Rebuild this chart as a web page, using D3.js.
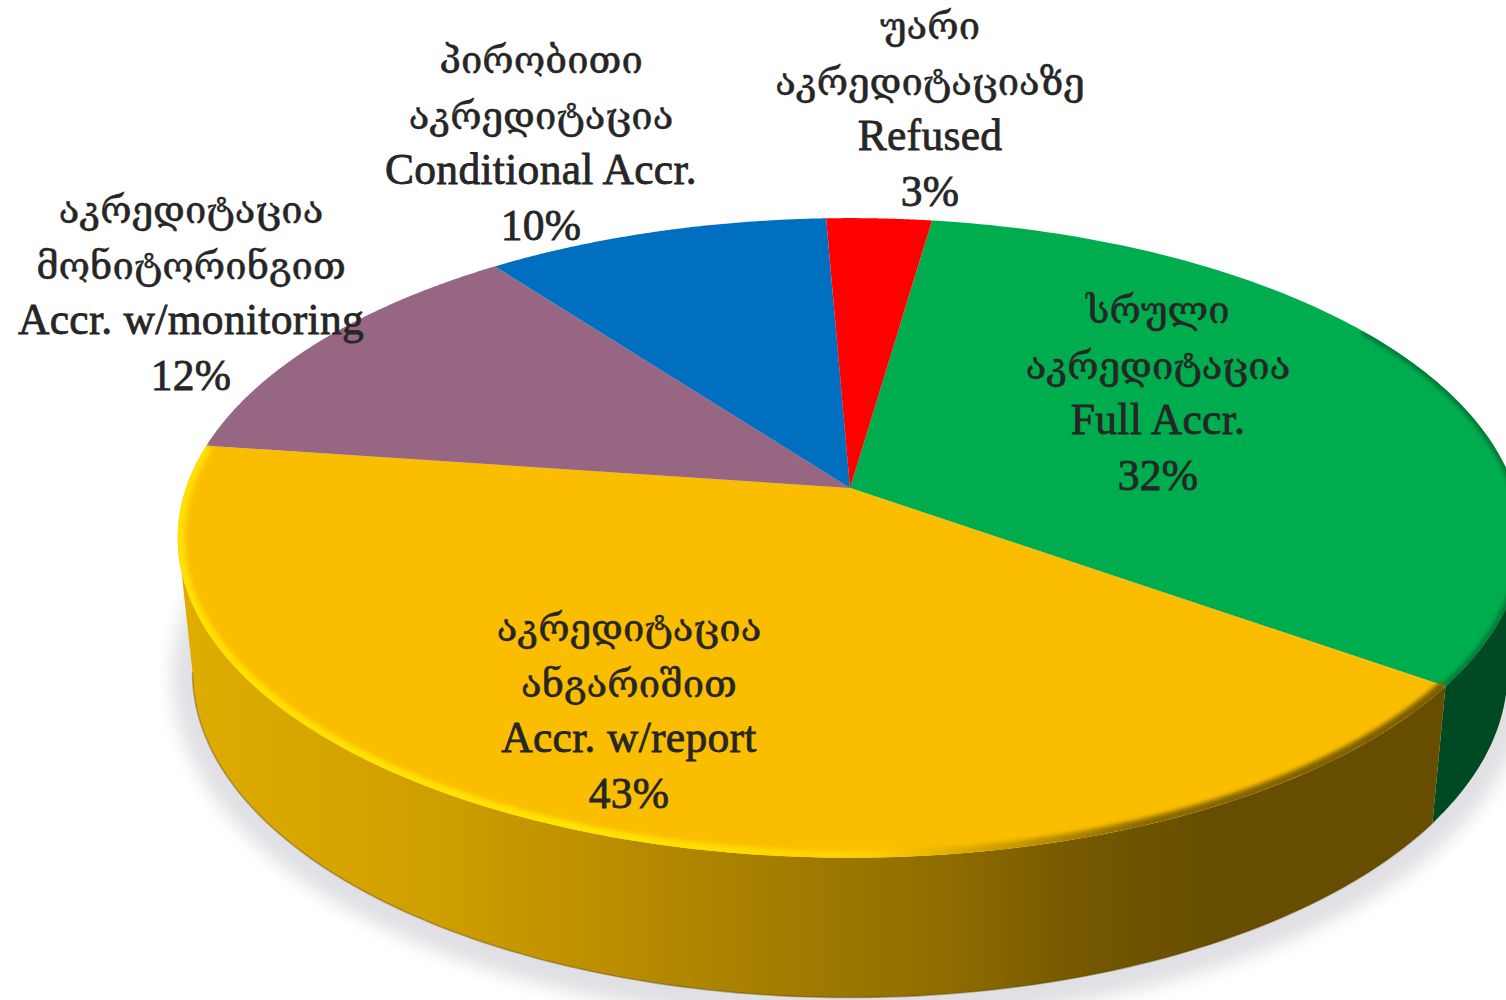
<!DOCTYPE html>
<html><head><meta charset="utf-8">
<script src="https://cdnjs.cloudflare.com/ajax/libs/d3/7.8.5/d3.min.js"></script>
<style>html,body{margin:0;padding:0;background:#fff;overflow:hidden}svg{display:block}</style>
</head><body><svg id="c" width="1506" height="1000"></svg>
<script>
const categoriesKa = [["სრული","აკრედიტაცია"],["აკრედიტაცია","ანგარიშით"],["აკრედიტაცია","მონიტორინგით"],["პირობითი","აკრედიტაცია"],["უარი","აკრედიტაციაზე"]];
const categoriesEn = ["Full Accr.","Accr. w/report","Accr. w/monitoring","Conditional Accr.","Refused"];
const percentLabels = ["32%","43%","12%","10%","3%"];
const values = [32.53,42.4,12.51,9.61,2.94];
const colors = ["#00ad4e","#fbbd00","#976683","#006fc0","#ff0000"];
const sideColors = ["#004a23","url(#sideGold)","#5f4050","#004a80","#a00000"];
const labelAnchors = [[1158,323],[629,641],[191,223],[541,73],[930,39]];
const W=1506,H=1000, startDeg=8.2;
const CX=850, CY=488, A=664, B=312, K=0.156;          // perspective of the top disc
const BY=621.6, SX=0.978, SY=1.017;                    // perspective of the bottom disc
const rad=Math.PI/180;
const topPt=t=>{const x=Math.sin(t),y=-Math.cos(t),d=1-K*y;return [CX+A*x/d,CY+B*y/d];};
const botPt=t=>{const x=Math.sin(t),y=-Math.cos(t),d=1-K*y;return [CX+SX*A*x/d,BY+SY*B*y/d];};
const arcPts=(f,a,b,n=120)=>d3.range(n+1).map(i=>f(a+(b-a)*i/n));
const line=d3.line();
const pie=d3.pie().sort(null).value(d=>d).startAngle(startDeg*rad).endAngle(startDeg*rad+2*Math.PI);
const arcs=pie(values);
const color=d3.scaleOrdinal(d3.range(values.length),colors);
const side=d3.scaleOrdinal(d3.range(values.length),sideColors);
const svg=d3.select("#c");
const defs=svg.append("defs");
const f=(id,s)=>defs.append("filter").attr("id",id).attr("x","-20%").attr("y","-20%").attr("width","140%").attr("height","140%").append("feGaussianBlur").attr("stdDeviation",s);
f("shadow",9);f("bevel",2.2);
const lg=(id,stops)=>{const g=defs.append("linearGradient").attr("id",id).attr("gradientUnits","userSpaceOnUse").attr("x1",170).attr("x2",1450).attr("y1",0).attr("y2",0);
 stops.forEach(([o,c])=>g.append("stop").attr("offset",o).attr("stop-color",c));};
lg("sideGold",[[0,"#e0ad00"],[.2,"#d09f00"],[.36,"#b88c00"],[.5,"#a07a00"],[.62,"#8c6a00"],[.72,"#735700"],[.82,"#664d00"],[1,"#664d00"]]);
lg("rimGold",[[0,"#ffe000"],[.3,"#ffe400"],[.45,"#ffdc00"],[.55,"#ffcc00"],[.66,"#c89800"],[.76,"#8a6900"],[1,"#7a5c00"]]);
defs.append("clipPath").attr("id","disc").append("path").attr("d",line(arcPts(topPt,0,2*Math.PI,360))+"Z");

const lo=261*rad, hi=99*rad;   // silhouette tangent angles on the left and right
// ground shadow
svg.append("path").attr("d",line(arcPts(botPt,0,2*Math.PI,360))+"Z")
 .attr("fill","#e0e0e4").attr("stroke","#e0e0e4").attr("stroke-width",40).attr("filter","url(#shadow)").attr("transform","translate(0,4)");
// side walls
svg.append("g").selectAll("path").data(arcs.map((d,i)=>({a:Math.max(d.startAngle,hi),b:Math.min(d.endAngle,lo),i})).filter(d=>d.b>d.a))
 .join("path")
 .attr("d",d=>line(arcPts(topPt,d.a,d.b).concat(arcPts(botPt,d.b,d.a)))+"Z")
 .attr("fill",d=>side(d.i));
// bottom edge darkening
svg.append("path").attr("d",line(arcPts(botPt,hi+0.45,lo))).attr("fill","none").attr("stroke","#5a4300").attr("stroke-opacity",.4).attr("stroke-width",1.6);
// top slices
svg.append("g").selectAll("path").data(arcs).join("path")
 .attr("d",d=>line([[CX,CY]].concat(arcPts(topPt,d.startAngle,d.endAngle)))+"Z")
 .attr("fill",(d,i)=>color(i));
// bevel
const bev=svg.append("g").attr("clip-path","url(#disc)");
bev.append("path").attr("d",line(arcPts(topPt,arcs[1].startAngle,arcs[1].endAngle)))
 .attr("fill","none").attr("stroke","url(#rimGold)").attr("stroke-width",14).attr("filter","url(#bevel)");
bev.append("path").attr("d",line(arcPts(topPt,arcs[0].startAngle+0.85,arcs[0].endAngle)))
 .attr("fill","none").attr("stroke","#007a38").attr("stroke-width",8).attr("filter","url(#bevel)");
// labels
const fontKa=38.2, fontEn=43.5;
const lbl=svg.append("g").attr("text-anchor","middle").attr("fill","#262626");
arcs.forEach((d,i)=>{
 const [x,y]=labelAnchors[i];
 const lines=categoriesKa[i].map(s=>({s,ka:1})).concat([{s:categoriesEn[i]},{s:percentLabels[i]}]);
 lbl.selectAll(null).data(lines).join("text")
  .attr("x",x).attr("y",(l,j)=>y+j*55.5)
  .attr("font-size",l=>l.ka?fontKa:fontEn)
  .style("font-family",l=>l.ka?'"DejaVu Serif","DejaVu Sans",serif':'"Liberation Serif",serif')
  .style("letter-spacing",l=>l.ka?"0":"0.3px")
  .attr("stroke","#262626").attr("stroke-width",l=>l.ka?.5:.8)
  .text(l=>l.s);
});
</script></body></html>
